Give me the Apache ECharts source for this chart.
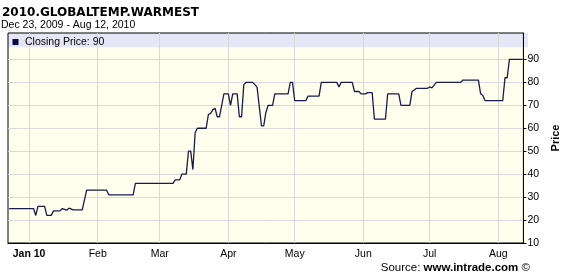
<!DOCTYPE html>
<html><head><meta charset="utf-8">
<script src="https://cdn.jsdelivr.net/npm/echarts@6/dist/echarts.min.js"></script>
<style>html,body{margin:0;padding:0;background:#fff}#c{width:569px;height:279px}</style>
</head><body><div id="c"></div>
<script>
const titleText = '2010.GLOBALTEMP.WARMEST';
const subtitleText = 'Dec 23, 2009 - Aug 12, 2010';
const legendText = 'Closing Price: 90';
const yName = 'Price';

const dates = [
 '2009-12-23','2010-01-03','2010-01-04','2010-01-05','2010-01-08','2010-01-09','2010-01-11','2010-01-12',
 '2010-01-15','2010-01-16','2010-01-18','2010-01-19','2010-01-21','2010-01-25','2010-01-27','2010-02-05',
 '2010-02-06','2010-02-17','2010-02-18','2010-03-07','2010-03-08','2010-03-10','2010-03-11','2010-03-13',
 '2010-03-14','2010-03-15','2010-03-16','2010-03-17','2010-03-18','2010-03-22','2010-03-23','2010-03-24',
 '2010-03-25','2010-03-26','2010-03-27','2010-03-28','2010-03-30','2010-04-01','2010-04-02','2010-04-03',
 '2010-04-05','2010-04-06','2010-04-07','2010-04-08','2010-04-09','2010-04-12','2010-04-13','2010-04-14',
 '2010-04-16','2010-04-17','2010-04-18','2010-04-19','2010-04-21','2010-04-22','2010-04-28','2010-04-29',
 '2010-04-30','2010-05-01','2010-05-06','2010-05-07','2010-05-12','2010-05-13','2010-05-20','2010-05-21',
 '2010-05-22','2010-05-27','2010-05-28','2010-05-30','2010-05-31','2010-06-02','2010-06-03','2010-06-05',
 '2010-06-06','2010-06-11','2010-06-12','2010-06-17','2010-06-18','2010-06-22','2010-06-23','2010-06-24',
 '2010-06-25','2010-06-30','2010-07-01','2010-07-02','2010-07-04','2010-07-15','2010-07-16','2010-07-23',
 '2010-07-24','2010-07-25','2010-07-26','2010-08-03','2010-08-04','2010-08-05','2010-08-06','2010-08-12'
];
const prices = [
 25,25,22,26,26,22,22,24,
 24,25,24.3,25.2,24.4,24.4,33,33,
 31,31,36,36,37.5,37.5,40,40,
 50,50,42,58,60,60,66,66.5,
 68,68.7,65,65,75,75,70,75,
 75,65,65,79,80,80,79,77.8,
 61,61,67,70,70,75,75,80,
 80,72,72,74,74,80,80,78,
 80,80,76,76,75,75,75.5,75.5,
 64,64,75,75,70,70,76,76.7,
 77.4,77.4,78,77.6,80,80,81,81,
 75,74.3,72,72,82,82,90,90
];
const monthTicks = ['2010-01-01','2010-02-01','2010-03-01','2010-04-01','2010-05-01','2010-06-01','2010-07-01','2010-08-01'];
const monthLabels = ['Jan 10','Feb','Mar','Apr','May','Jun','Jul','Aug'];
const priceTicks = [10,20,30,40,50,60,70,80,90];

function ts(s){const p=s.split('-').map(Number);return new Date(p[0],p[1]-1,p[2]).getTime();}
const monthTs = monthTicks.map(ts);
const seriesData = dates.map((d,i)=>[ts(d),prices[i]]);

const chart = echarts.init(document.getElementById('c'));
const GL=8, GR=41, GT=33, GB=36, W=569, H=279;
chart.setOption({
  animation:false,
  backgroundColor:'#ffffff',
  textStyle:{fontFamily:'Liberation Sans'},
  grid:{left:GL,right:GR,top:GT,bottom:GB,show:true,backgroundColor:'transparent',borderColor:'#000',borderWidth:1},
  xAxis:{
    type:'value',
    min:new Date(2009,11,22,11).getTime(),
    max:new Date(2010,7,12,8).getTime(),
    axisLine:{show:true,lineStyle:{color:'#000',width:1}},
    axisTick:{show:false,customValues:monthTs},
    splitLine:{show:true,lineStyle:{color:'#d9d9d9',width:1}},
    axisLabel:{
      customValues:monthTs,
      margin:6,
      color:'#000',
      fontSize:10.5,
      fontFamily:'Liberation Sans',
      formatter:function(v){
        const i=monthTs.indexOf(v);
        if(i===0) return '{b|'+monthLabels[0]+'}';
        return i>=0?monthLabels[i]:'';
      },
      rich:{b:{fontWeight:'bold',fontSize:10.5,fontFamily:'Liberation Sans',color:'#000'}}
    }
  },
  yAxis:{
    type:'value',
    position:'right',
    min:10,max:101.5,
    name:yName,
    nameLocation:'middle',
    nameRotate:90,
    nameGap:26,
    nameTextStyle:{fontWeight:'bold',fontSize:11,color:'#000',fontFamily:'Liberation Sans'},
    axisLine:{show:true,lineStyle:{color:'#000',width:1}},
    axisTick:{show:true,inside:false,length:3,lineStyle:{color:'#000'},customValues:priceTicks},
    splitLine:{show:true,lineStyle:{color:'#d9d9d9',width:1}},
    axisLabel:{customValues:priceTicks,margin:4,color:'#000',fontSize:10.5,fontFamily:'Liberation Sans'}
  },
  graphic:[
    {type:'rect',z:-5,silent:true,shape:{x:GL,y:GT,width:W-GL-GR,height:H-GT-GB},style:{fill:'#ffffee'}},
    {type:'rect',z:-4,silent:true,shape:{x:GL,y:GT,width:W-GL-GR,height:14.3},style:{fill:'#e6e6f6'}},
    {type:'rect',z:10,silent:true,shape:{x:12.5,y:39,width:6,height:6},style:{fill:'#0a0a40'}},
    {type:'text',z:10,silent:true,x:25,y:42.5,style:{text:legendText,fontSize:10.5,fontFamily:'Liberation Sans',fill:'#000',verticalAlign:'middle'}},
    {type:'text',z:10,silent:true,x:2,y:12.5,style:{text:titleText,fontSize:12,fontWeight:'bold',fontFamily:'DejaVu Sans',fill:'#000',verticalAlign:'middle'}},
    {type:'text',z:10,silent:true,x:1,y:25,style:{text:subtitleText,fontSize:10.5,fontFamily:'Liberation Sans',fill:'#000',verticalAlign:'middle'}},
    {type:'text',z:10,silent:true,x:530,y:267.5,style:{
      text:'{n|Source: }{b|www.intrade.com}{n| ©}',align:'right',verticalAlign:'middle',
      rich:{n:{fontSize:11.5,fontFamily:'Liberation Sans',fill:'#000'},b:{fontSize:11.5,fontWeight:'bold',fontFamily:'Liberation Sans',fill:'#000'}}
    }}
  ],
  series:[{
    type:'line',
    data:seriesData,
    showSymbol:false,
    symbol:'none',
    lineStyle:{color:'#1a1a4c',width:1.3},
    z:5
  }]
});
</script></body></html>
